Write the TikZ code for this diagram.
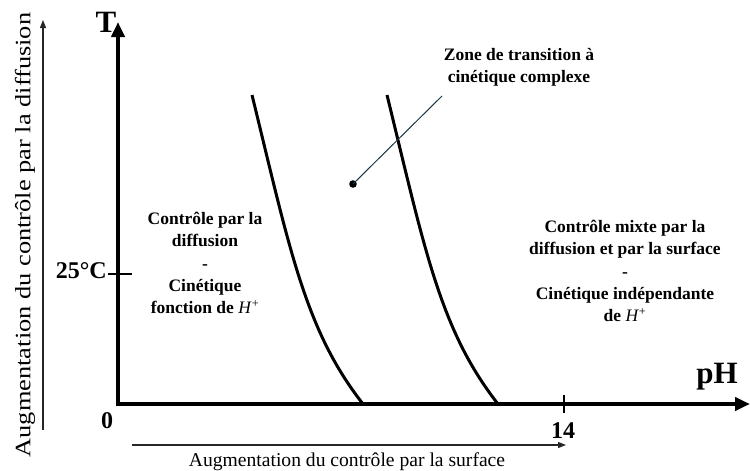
\documentclass[tikz,border=0pt]{standalone}
\usepackage{graphicx}
\usepackage{fontspec}
\setmainfont{Liberation Serif}
\usetikzlibrary{arrows.meta}
\newcommand\myfs[2]{\fontsize{#1}{#2}\selectfont}
\begin{document}
\begin{tikzpicture}[x=1pt,y=-1pt,
  axis/.style={line width=4pt,-{Triangle[length=15pt,width=13pt]}},
  thinarrow/.style={line width=1.2pt,draw=black!85,-{Triangle[length=8pt,width=6pt]}},
  curve/.style={line width=3pt},
  tickmark/.style={line width=2pt},
  boldlab/.style={font=\bfseries\myfs{24}{26},inner sep=0pt},
  biglab/.style={font=\bfseries\myfs{31}{33},inner sep=0pt},
  region/.style={font=\bfseries\myfs{17.5}{22.3},align=center,inner sep=0pt},
  axlabel/.style={font=\myfs{19.6}{22},inner sep=0pt},
  leader/.style={line width=1pt,draw={rgb,255:red,25;green,55;blue,70}},
]
\useasboundingbox (0,0) rectangle (750,471);

% axes
\coordinate (O) at (118,404);
\coordinate (ytip) at (118,22);
\coordinate (xtip) at (750,404);
\draw[axis] (O) -- (ytip);
\draw[axis] (O) -- (xtip);
\fill (116,402) rectangle (120,406);

% ticks
\coordinate (t25a) at (108,274);
\coordinate (t25b) at (132,274);
\draw[tickmark] (t25a) -- (t25b);
\coordinate (t14a) at (564,395);
\coordinate (t14b) at (564,413);
\draw[tickmark] (t14a) -- (t14b);

% axis labels
\node[biglab,anchor=base] (T) at (106,32) {T};
\node[biglab,anchor=base] (pH) at (717,383) {pH};
\node[boldlab,anchor=base east] (l25) at (107,278) {25°C};
\node[boldlab,anchor=base] (l0) at (107,428) {0};
\node[boldlab,anchor=base] (l14) at (563,438) {14};

% side arrows
\coordinate (la) at (43,430);
\coordinate (lb) at (43,20);
\draw[thinarrow] (la) -- (lb);
\node[inner sep=0pt,rotate=90] (ylab) at (25,235)
  {\scalebox{1.2}[1]{\myfs{22}{24}Augmentation du contrôle par la diffusion}};
\coordinate (ba) at (132,445);
\coordinate (bb) at (566,445);
\draw[thinarrow] (ba) -- (bb);
\node[axlabel,anchor=base] (xlab) at (347,466) {Augmentation du contrôle par la surface};

% curves
\coordinate (c1a) at (252,95);
\coordinate (c1c) at (363,404);
\draw[curve] (c1a) .. controls (290,250) and (305,330) .. (c1c);
\coordinate (c2a) at (387,95);
\coordinate (c2c) at (498,404);
\draw[curve] (c2a) .. controls (425,250) and (440,330) .. (c2c);

% zone label
\node[region] (zone) at (519,67) {Zone de transition à\\cinétique complexe};
\coordinate (dot) at (353,184);
\coordinate (lend) at (442,96);
\fill (dot) circle (3.8pt);
\draw[leader] (dot) -- (lend);

% region texts
\node[region] (left) at (205,263)
  {Contrôle par la\\diffusion\\-\\Cinétique\\fonction de \textnormal{\textit{H}\textsuperscript{+}}};
\node[region] (right) at (625,271)
  {Contrôle mixte par la\\diffusion et par la surface\\-\\Cinétique indépendante\\de \textnormal{\textit{H}\textsuperscript{+}}};
\end{tikzpicture}
\end{document}
